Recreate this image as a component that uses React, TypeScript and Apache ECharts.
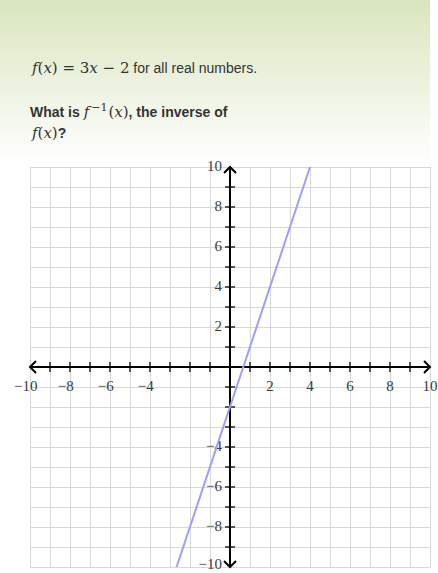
import React, { useEffect, useRef } from "react";
import * as echarts from "echarts";

const xLabelValues = [-10, -8, -6, -4, 2, 4, 6, 8, 10];
const yLabelValues = [10, 8, 6, 4, 2, -4, -6, -8, -10];
const tickValues = [-9, -8, -7, -6, -5, -4, -3, -2, -1, 1, 2, 3, 4, 5, 6, 7, 8, 9];
const lineData = [
  [-2.67, -10],
  [4, 10],
];
const axisMin = -10;
const axisMax = 10;

const MINUS = "\u2212";
const fmt = (v: number) => (v < 0 ? MINUS + Math.abs(v) : String(v));

export default function App() {
  const ref = useRef<HTMLDivElement>(null);
  useEffect(() => {
    if (!ref.current) return;
    const chart = echarts.init(ref.current, null, { renderer: "svg" });
    const labelFont = '15px "Liberation Serif", "DejaVu Serif", serif';
    const labelColor = "#3a3a3a";
    const digitW = 7.5;

    const renderAxes = (params: any, api: any) => {
      const children: any[] = [];
      const l = api.coord([axisMin, 0]);
      const r = api.coord([axisMax, 0]);
      const t = api.coord([0, axisMax]);
      const b = api.coord([0, axisMin]);
      const axisStyle = { stroke: "#000", lineWidth: 2, fill: null };
      const tickStyle = { stroke: "#555", lineWidth: 2 };
      tickValues.forEach((v) => {
        const px = api.coord([v, 0]);
        children.push({ type: "line", shape: { x1: px[0], y1: px[1] - 5, x2: px[0], y2: px[1] + 5 }, style: tickStyle });
        const py = api.coord([0, v]);
        children.push({ type: "line", shape: { x1: py[0] - 5, y1: py[1], x2: py[0] + 5, y2: py[1] }, style: tickStyle });
      });
      children.push({ type: "line", shape: { x1: l[0], y1: l[1], x2: r[0], y2: r[1] }, style: axisStyle });
      children.push({ type: "line", shape: { x1: t[0], y1: t[1], x2: b[0], y2: b[1] }, style: axisStyle });
      const a = 6;
      children.push({ type: "polyline", shape: { points: [[r[0] - a, r[1] - a], [r[0], r[1]], [r[0] - a, r[1] + a]] }, style: axisStyle });
      children.push({ type: "polyline", shape: { points: [[l[0] + a, l[1] - a], [l[0], l[1]], [l[0] + a, l[1] + a]] }, style: axisStyle });
      children.push({ type: "polyline", shape: { points: [[t[0] - a, t[1] + a], [t[0], t[1]], [t[0] + a, t[1] + a]] }, style: axisStyle });
      children.push({ type: "polyline", shape: { points: [[b[0] - a, b[1] - a], [b[0], b[1]], [b[0] + a, b[1] - a]] }, style: axisStyle });
      xLabelValues.forEach((v) => {
        const p = api.coord([v, 0]);
        const nd = String(Math.abs(v)).length;
        children.push({
          type: "text",
          x: p[0] + (nd * digitW) / 2,
          y: p[1] + 19,
          style: { text: fmt(v), font: labelFont, fill: labelColor, align: "right", verticalAlign: "middle" },
        });
      });
      yLabelValues.forEach((v) => {
        const p = api.coord([0, v]);
        children.push({
          type: "text",
          x: p[0] - 8,
          y: Math.min(p[1] - 1, 564),
          style: { text: fmt(v), font: labelFont, fill: labelColor, align: "right", verticalAlign: "middle" },
        });
      });
      return { type: "group", children };
    };

    const serif = '"DejaVu Serif", "Liberation Serif", serif';
    const sans = '"Liberation Sans", Arial, sans-serif';
    const rich: any = {
      i: { fontFamily: serif, fontStyle: "italic", fontSize: 15, fill: "#333" },
      r: { fontFamily: serif, fontSize: 15, fill: "#333" },
      s: { fontFamily: sans, fontSize: 14, fill: "#333" },
      b: { fontFamily: sans, fontSize: 14, fontWeight: "bold", fill: "#333" },
      sup: { fontFamily: serif, fontSize: 11, fill: "#333", padding: [0, 1, 9, 2] },
    };

    chart.setOption({
      animation: false,
      backgroundColor: "transparent",
      grid: { left: 30, top: 167, width: 400, height: 400, containLabel: false },
      xAxis: {
        type: "value",
        min: axisMin,
        max: axisMax,
        interval: 1,
        axisLine: { show: false },
        axisTick: { show: false },
        axisLabel: { show: false },
        splitLine: { show: true, lineStyle: { color: "#d8d8d8", width: 1 } },
      },
      yAxis: {
        type: "value",
        min: axisMin,
        max: axisMax,
        interval: 1,
        axisLine: { show: false },
        axisTick: { show: false },
        axisLabel: { show: false },
        splitLine: { show: true, lineStyle: { color: "#d8d8d8", width: 1 } },
      },
      graphic: [
        {
          type: "text",
          x: 32,
          y: 68,
          style: {
            text: "{i|f}{r|(}{i|x}{r|) = 3}{i|x}{r| \u2212 2}{s| for all real numbers.}",
            rich,
            verticalAlign: "middle",
          },
        },
        {
          type: "text",
          x: 30,
          y: 112,
          style: {
            text: "{b|What is }{i|f}{sup|\u22121}{r|(}{i|x}{r|)}{b|, the inverse of}",
            rich,
            verticalAlign: "middle",
          },
        },
        {
          type: "text",
          x: 32,
          y: 133,
          style: {
            text: "{i|f}{r|(}{i|x}{r|)}{b|?}",
            rich,
            verticalAlign: "middle",
          },
        },
      ],
      series: [
        {
          type: "custom",
          renderItem: renderAxes,
          data: [[0, 0]],
          silent: true,
          z: 3,
        },
        {
          type: "line",
          data: lineData,
          showSymbol: false,
          clip: true,
          lineStyle: { color: "#9d9dff", width: 2 },
          z: 4,
        },
      ],
    });
    return () => chart.dispose();
  }, []);

  return (
    <div style={{ position: "absolute", left: 0, top: 0, width: 438, height: 573, background: "#fff" }}>
      <div
        style={{
          position: "absolute",
          left: 0,
          top: 0,
          width: 430,
          height: 573,
          background: "linear-gradient(to bottom, #d9e5be 0px, #ffffff 165px)",
        }}
      />
      <div ref={ref} style={{ position: "absolute", left: 0, top: 0, width: 438, height: 573 }} />
    </div>
  );
}
